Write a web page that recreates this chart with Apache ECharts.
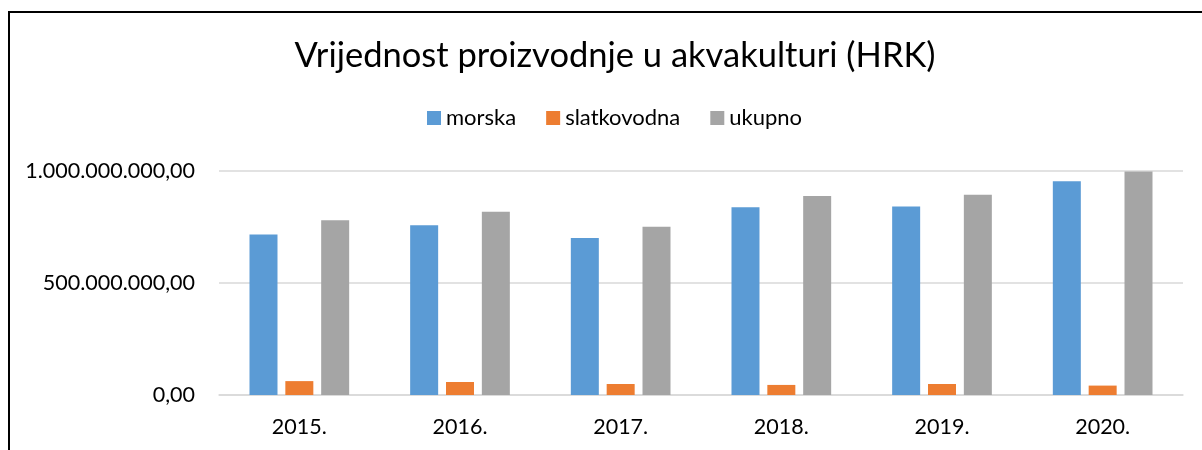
<!DOCTYPE html>
<html>
<head>
<meta charset="utf-8">
<script src="https://cdn.jsdelivr.net/npm/echarts@6/dist/echarts.min.js"></script>
<style>
  html, body { margin: 0; padding: 0; background: #fff; }
  #chart { width: 1202px; height: 450px; }
</style>
</head>
<body>
<div id="chart"></div>
<script>
// godine i vrijednosti (HRK), očitano s grafa
var years = ['2015.', '2016.', '2017.', '2018.', '2019.', '2020.'];
var morska = [717000000, 758000000, 701000000, 838000000, 842000000, 954000000];
var slatkovodna = [62000000, 58000000, 49000000, 45000000, 49000000, 42000000];
var ukupno = [780000000, 818000000, 751000000, 888000000, 894000000, 998000000];
var yTicks = [0, 500000000, 1000000000];

var font = 'Lato';

function fmtHrk(v) {
    var s = Math.round(v).toString().replace(/\B(?=(\d{3})+(?!\d))/g, '.');
    return s + ',00';
}

var chart = echarts.init(document.getElementById('chart'));
chart.setOption({
    animation: false,
    textStyle: { fontFamily: font },
    title: {
        text: 'Vrijednost proizvodnje u akvakulturi (HRK)',
        left: 610,
        textAlign: 'center',
        top: 33,
        textStyle: { fontFamily: font, fontSize: 34.5, fontWeight: 'normal', color: '#000' }
    },
    legend: {
        top: 102,
        left: 422,
        itemWidth: 14,
        itemHeight: 14,
        itemGap: 30,
        icon: 'rect',
        textStyle: { fontFamily: font, fontSize: 22, color: '#000', padding: [0, 0, 0, 0] },
        data: ['morska', 'slatkovodna', 'ukupno']
    },
    grid: { left: 219, right: 19, top: 171, bottom: 55, containLabel: false },
    xAxis: {
        type: 'category',
        data: years,
        axisLine: { lineStyle: { color: '#d9d9d9', width: 1.5 } },
        axisTick: { show: false },
        axisLabel: { color: '#000', fontSize: 21.5, margin: 21, fontFamily: font }
    },
    yAxis: {
        type: 'value',
        min: yTicks[0],
        max: yTicks[yTicks.length - 1],
        interval: yTicks[1] - yTicks[0],
        axisLine: { show: false },
        axisTick: { show: false },
        splitLine: { lineStyle: { color: '#d9d9d9', width: 1.5 } },
        axisLabel: { color: '#000', fontSize: 21.5, margin: 24, fontFamily: font, formatter: fmtHrk }
    },
    graphic: [{
        type: 'rect',
        shape: { x: 9, y: 12, width: 1400, height: 600 },
        style: { fill: 'none', stroke: '#000', lineWidth: 2 },
        silent: true
    }],
    series: [
        { name: 'morska', type: 'bar', data: morska, barWidth: 28, barGap: '28%', itemStyle: { color: '#5b9bd5' } },
        { name: 'slatkovodna', type: 'bar', data: slatkovodna, barWidth: 28, itemStyle: { color: '#ed7d31' } },
        { name: 'ukupno', type: 'bar', data: ukupno, barWidth: 28, itemStyle: { color: '#a5a5a5' } }
    ]
});
</script>
</body>
</html>
